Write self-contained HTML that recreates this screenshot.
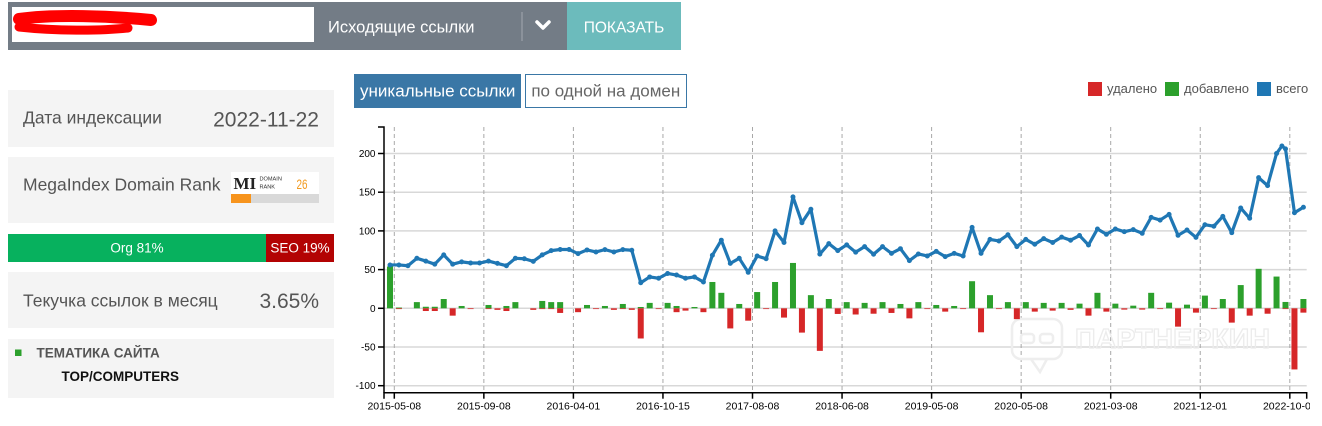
<!DOCTYPE html>
<html><head><meta charset="utf-8"><style>
html,body{margin:0;padding:0;background:#fff;}
body{width:1322px;height:426px;overflow:hidden;position:relative;}
svg{position:absolute;left:0;top:0;}
text{font-family:"Liberation Sans","DejaVu Sans",sans-serif;}
</style></head><body>
<svg width="1322" height="426" viewBox="0 0 1322 426" xmlns="http://www.w3.org/2000/svg">
<defs><clipPath id="cp"><rect x="0" y="0" width="1310" height="426"/></clipPath></defs>
<!-- top bar -->
<rect x="8" y="2" width="673" height="48" fill="#737c86"/>
<rect x="12" y="7" width="302" height="35" fill="#fff"/>
<path d="M19,19 C55,14 110,16 151,20" stroke="#ff0000" stroke-width="12" stroke-linecap="round" fill="none"/>
<path d="M19,27 C55,31 100,31 128,28" stroke="#ff0000" stroke-width="9" stroke-linecap="round" fill="none"/>
<text x="328" y="32.3" font-size="16.5" fill="#fff">Исходящие ссылки</text>
<line x1="522" y1="12" x2="522" y2="41" stroke="#a3a9b0" stroke-width="1"/>
<polyline points="537,22 543,28 549,22" fill="none" stroke="#fff" stroke-width="3.5" stroke-linecap="round" stroke-linejoin="round"/>
<rect x="567" y="2" width="114" height="48" fill="#6cbbbc"/>
<text x="624" y="32.3" font-size="15.5" fill="#fff" text-anchor="middle">ПОКАЗАТЬ</text>

<!-- left panel -->
<rect x="8" y="90" width="326" height="57" fill="#f4f4f4"/>
<text x="23" y="123.5" font-size="17.5" fill="#555">Дата индексации</text>
<text x="319" y="126.5" font-size="21" fill="#555" text-anchor="end">2022-11-22</text>

<rect x="8" y="157" width="326" height="66" fill="#f4f4f4"/>
<text x="23" y="190.5" font-size="17.5" fill="#555">MegaIndex Domain Rank</text>
<rect x="231" y="172" width="88" height="22" fill="#fff"/>
<text x="233.5" y="189" font-size="17" font-weight="bold" fill="#222" style="font-family:'Liberation Serif',serif">MI</text>
<text x="259.5" y="180.5" font-size="5.6" fill="#333">DOMAIN</text>
<text x="259.5" y="188.5" font-size="5.6" fill="#333">RANK</text>
<text x="296.5" y="189" font-size="14" fill="#f29a1f" textLength="11" lengthAdjust="spacingAndGlyphs">26</text>
<rect x="231" y="194" width="88" height="9" fill="#d9d9d9"/>
<rect x="231" y="194" width="20" height="9" fill="#f7941d"/>

<rect x="8" y="234" width="258" height="28" fill="#07b15e"/>
<rect x="266" y="234" width="68" height="28" fill="#b30303"/>
<text x="137" y="252.5" font-size="13.5" fill="#fff" text-anchor="middle">Org 81%</text>
<text x="300" y="252.5" font-size="13.5" fill="#fff" text-anchor="middle">SEO 19%</text>

<rect x="8" y="272" width="326" height="56" fill="#f4f4f4"/>
<text x="23" y="306.5" font-size="17.5" fill="#555">Текучка ссылок в месяц</text>
<text x="319" y="308" font-size="21" fill="#555" text-anchor="end">3.65%</text>

<rect x="8" y="339" width="326" height="59" fill="#f4f4f4"/>
<rect x="15" y="349.5" width="6.5" height="6.5" fill="#2ca02c"/>
<text x="36.5" y="357.5" font-size="13.5" font-weight="bold" fill="#555">ТЕМАТИКА САЙТА</text>
<text x="61.5" y="381" font-size="13.5" font-weight="bold" fill="#111">TOP/COMPUTERS</text>

<!-- buttons -->
<rect x="354" y="74" width="167" height="34" fill="#3a77a6"/>
<text x="437.7" y="96.7" font-size="17" fill="#fff" text-anchor="middle">уникальные ссылки</text>
<rect x="525.5" y="74.5" width="161" height="33" fill="#fff" stroke="#3a77a6" stroke-width="1"/>
<text x="605.8" y="96.7" font-size="17" fill="#666" text-anchor="middle">по одной на домен</text>

<!-- legend -->
<rect x="1088" y="82" width="14" height="14" fill="#d62728"/>
<text x="1107" y="93" font-size="13" fill="#555">удалено</text>
<rect x="1165" y="82" width="14" height="14" fill="#2ca02c"/>
<text x="1184" y="93" font-size="13" fill="#555">добавлено</text>
<rect x="1257" y="82" width="14" height="14" fill="#1f77b4"/>
<text x="1276" y="93" font-size="13" fill="#555">всего</text>

<!-- horizontal grid -->
<g stroke="#d8d8d8" stroke-width="1.5">
<line x1="384" x2="1306.7" y1="153.5" y2="153.5"/>
<line x1="384" x2="1306.7" y1="192.2" y2="192.2"/>
<line x1="384" x2="1306.7" y1="230.9" y2="230.9"/>
<line x1="384" x2="1306.7" y1="269.6" y2="269.6"/>
<line x1="384" x2="1306.7" y1="308.3" y2="308.3"/>
<line x1="384" x2="1306.7" y1="347" y2="347"/>
<line x1="384" x2="1306.7" y1="385.7" y2="385.7"/>
</g>
<!-- vertical dashed grid -->
<g stroke="#a8a8a8" stroke-width="1" stroke-dasharray="4,3">
<line x1="394.3" x2="394.3" y1="127" y2="392"/>
<line x1="483.85" x2="483.85" y1="127" y2="392"/>
<line x1="573.4" x2="573.4" y1="127" y2="392"/>
<line x1="662.95" x2="662.95" y1="127" y2="392"/>
<line x1="752.5" x2="752.5" y1="127" y2="392"/>
<line x1="842.05" x2="842.05" y1="127" y2="392"/>
<line x1="931.6" x2="931.6" y1="127" y2="392"/>
<line x1="1021.15" x2="1021.15" y1="127" y2="392"/>
<line x1="1110.7" x2="1110.7" y1="127" y2="392"/>
<line x1="1200.25" x2="1200.25" y1="127" y2="392"/>
<line x1="1289.8" x2="1289.8" y1="127" y2="392"/>
</g>

<!-- watermark -->
<g fill="none" stroke="#eeeeee" stroke-width="2.5">
<rect x="1012" y="319" width="50" height="40" rx="9"/>
<path d="M1031,359 L1040,372 L1047,359"/>
<rect x="1021" y="334" width="13" height="9" rx="3"/>
<rect x="1040" y="334" width="13" height="9" rx="3"/>
</g>
<text x="1075" y="348" font-size="28" font-weight="bold" fill="none" stroke="#ececec" stroke-width="1.3" textLength="195" lengthAdjust="spacingAndGlyphs">ПАРТНЕРКИН</text>

<!-- bars and line in data space -->
<g transform="translate(390,308.3) scale(8.955,-0.774)">
<g transform="translate(-0.335,0)" fill="#2ca02c">
<rect x="0" y="0" width="0.67" height="54"/>
<rect x="1" y="0" width="0.67" height="1"/>
<rect x="3" y="0" width="0.67" height="8"/>
<rect x="4" y="0" width="0.67" height="2"/>
<rect x="5" y="0" width="0.67" height="2"/>
<rect x="6" y="0" width="0.67" height="12"/>
<rect x="8" y="0" width="0.67" height="3"/>
<rect x="11" y="0" width="0.67" height="4.3"/>
<rect x="13" y="0" width="0.67" height="3"/>
<rect x="14" y="0" width="0.67" height="8"/>
<rect x="17" y="0" width="0.67" height="9.5"/>
<rect x="18" y="0" width="0.67" height="8"/>
<rect x="19" y="0" width="0.67" height="8"/>
<rect x="22" y="0" width="0.67" height="4.3"/>
<rect x="24" y="0" width="0.67" height="3"/>
<rect x="26" y="0" width="0.67" height="5.6"/>
<rect x="28" y="0" width="0.67" height="1.7"/>
<rect x="29" y="0" width="0.67" height="7"/>
<rect x="31" y="0" width="0.67" height="7"/>
<rect x="32" y="0" width="0.67" height="3"/>
<rect x="34" y="0" width="0.67" height="1.7"/>
<rect x="36" y="0" width="0.67" height="34"/>
<rect x="37" y="0" width="0.67" height="20"/>
<rect x="39" y="0" width="0.67" height="5.6"/>
<rect x="41" y="0" width="0.67" height="21"/>
<rect x="43" y="0" width="0.67" height="34"/>
<rect x="45" y="0" width="0.67" height="58.6"/>
<rect x="47" y="0" width="0.67" height="17"/>
<rect x="49" y="0" width="0.67" height="12"/>
<rect x="51" y="0" width="0.67" height="8"/>
<rect x="53" y="0" width="0.67" height="7"/>
<rect x="55" y="0" width="0.67" height="8"/>
<rect x="57" y="0" width="0.67" height="5.6"/>
<rect x="59" y="0" width="0.67" height="8"/>
<rect x="61" y="0" width="0.67" height="4.3"/>
<rect x="63" y="0" width="0.67" height="3"/>
<rect x="65" y="0" width="0.67" height="35"/>
<rect x="67" y="0" width="0.67" height="17"/>
<rect x="69" y="0" width="0.67" height="8"/>
<rect x="71" y="0" width="0.67" height="8"/>
<rect x="73" y="0" width="0.67" height="7"/>
<rect x="75" y="0" width="0.67" height="7"/>
<rect x="77" y="0" width="0.67" height="6"/>
<rect x="79" y="0" width="0.67" height="20"/>
<rect x="81" y="0" width="0.67" height="6"/>
<rect x="83" y="0" width="0.67" height="3.4"/>
<rect x="85" y="0" width="0.67" height="20"/>
<rect x="87" y="0" width="0.67" height="7.3"/>
<rect x="89" y="0" width="0.67" height="4.7"/>
<rect x="91" y="0" width="0.67" height="16.4"/>
<rect x="93" y="0" width="0.67" height="12"/>
<rect x="95" y="0" width="0.67" height="30"/>
<rect x="97" y="0" width="0.67" height="51"/>
<rect x="99" y="0" width="0.67" height="41"/>
<rect x="100" y="0" width="0.67" height="8.2"/>
<rect x="102" y="0" width="0.67" height="12"/>
</g>
<g transform="translate(-0.335,0)" fill="#d62728">
<rect x="1" y="-1" width="0.67" height="1"/>
<rect x="4" y="-3.5" width="0.67" height="3.5"/>
<rect x="5" y="-3.5" width="0.67" height="3.5"/>
<rect x="7" y="-9.5" width="0.67" height="9.5"/>
<rect x="9" y="-1" width="0.67" height="1"/>
<rect x="11" y="-1" width="0.67" height="1"/>
<rect x="12" y="-2" width="0.67" height="2"/>
<rect x="13" y="-3.5" width="0.67" height="3.5"/>
<rect x="16" y="-2" width="0.67" height="2"/>
<rect x="17" y="-1" width="0.67" height="1"/>
<rect x="18" y="-1" width="0.67" height="1"/>
<rect x="19" y="-6" width="0.67" height="6"/>
<rect x="21" y="-5" width="0.67" height="5"/>
<rect x="23" y="-1" width="0.67" height="1"/>
<rect x="25" y="-2" width="0.67" height="2"/>
<rect x="26" y="-1" width="0.67" height="1"/>
<rect x="27" y="-2" width="0.67" height="2"/>
<rect x="28" y="-39" width="0.67" height="39"/>
<rect x="30" y="-1" width="0.67" height="1"/>
<rect x="32" y="-5" width="0.67" height="5"/>
<rect x="33" y="-3" width="0.67" height="3"/>
<rect x="35" y="-5" width="0.67" height="5"/>
<rect x="38" y="-26" width="0.67" height="26"/>
<rect x="40" y="-16" width="0.67" height="16"/>
<rect x="42" y="-1" width="0.67" height="1"/>
<rect x="44" y="-12" width="0.67" height="12"/>
<rect x="46" y="-31.4" width="0.67" height="31.4"/>
<rect x="48" y="-55" width="0.67" height="55"/>
<rect x="50" y="-7.3" width="0.67" height="7.3"/>
<rect x="52" y="-8" width="0.67" height="8"/>
<rect x="54" y="-7" width="0.67" height="7"/>
<rect x="56" y="-6" width="0.67" height="6"/>
<rect x="58" y="-13" width="0.67" height="13"/>
<rect x="60" y="-1" width="0.67" height="1"/>
<rect x="62" y="-4.3" width="0.67" height="4.3"/>
<rect x="64" y="-1" width="0.67" height="1"/>
<rect x="66" y="-31" width="0.67" height="31"/>
<rect x="68" y="-1" width="0.67" height="1"/>
<rect x="70" y="-14" width="0.67" height="14"/>
<rect x="72" y="-4.3" width="0.67" height="4.3"/>
<rect x="74" y="-3" width="0.67" height="3"/>
<rect x="76" y="-2" width="0.67" height="2"/>
<rect x="78" y="-9.5" width="0.67" height="9.5"/>
<rect x="80" y="-4.3" width="0.67" height="4.3"/>
<rect x="82" y="-1.7" width="0.67" height="1.7"/>
<rect x="84" y="-1.7" width="0.67" height="1.7"/>
<rect x="86" y="-1" width="0.67" height="1"/>
<rect x="88" y="-23.7" width="0.67" height="23.7"/>
<rect x="90" y="-5.6" width="0.67" height="5.6"/>
<rect x="92" y="-1" width="0.67" height="1"/>
<rect x="94" y="-18.5" width="0.67" height="18.5"/>
<rect x="96" y="-9.5" width="0.67" height="9.5"/>
<rect x="98" y="-7" width="0.67" height="7"/>
<rect x="100" y="-1" width="0.67" height="1"/>
<rect x="101" y="-79" width="0.67" height="79"/>
<rect x="102" y="-5.6" width="0.67" height="5.6"/>
</g>
<polyline vector-effect="non-scaling-stroke" fill="none" stroke="#1f77b4" stroke-width="3.2" stroke-linejoin="round" stroke-linecap="round" points="0,56 1,56 2,55 3,64.6 4,61 5,57 6,69 7,57 8,60 9,58.5 10,58.5 11,61 12,58 13,55 14,64.6 15,64 16,60.7 17,69 18,74.5 19,76 20,76 21,70.6 22,75.4 23,72.8 24,75.8 25,72.8 26,75.8 27,75 28,33 29,40.5 30,38.8 31,45 32,43 33,38.8 34,40.5 35,34 36,68.5 37,88 38,58 39,64.6 40,46.5 41,67.6 42,64 43,100 44,85 45,144 46,110.6 47,128 48,70 49,83.5 50,74.5 51,82 52,72.5 53,79.7 54,69.8 55,79.7 56,71 57,77 58,61.6 59,70.2 60,67.6 61,73.6 62,66.8 63,71 64,67.6 65,104.6 66,71 67,89 68,87 69,95 70,79.7 71,89 72,82.7 73,90 74,85 75,92 76,88 77,94 78,81.8 79,102.5 80,95.6 81,102.5 82,99 83,101.6 84,96.9 85,117.5 86,114 87,121.4 88,94.3 89,101.2 90,91.7 91,108 92,106 93,118.8 94,97.7 95,129.6 96,116.3 97,168.8 98,158.5 99,200 99.6,209.7 100,206 101,123.5 102,130.5"/>
<path vector-effect="non-scaling-stroke" fill="none" stroke="#1f77b4" stroke-width="5" stroke-linecap="round" d="M0,56h0M1,56h0M2,55h0M3,64.6h0M4,61h0M5,57h0M6,69h0M7,57h0M8,60h0M9,58.5h0M10,58.5h0M11,61h0M12,58h0M13,55h0M14,64.6h0M15,64h0M16,60.7h0M17,69h0M18,74.5h0M19,76h0M20,76h0M21,70.6h0M22,75.4h0M23,72.8h0M24,75.8h0M25,72.8h0M26,75.8h0M27,75h0M28,33h0M29,40.5h0M30,38.8h0M31,45h0M32,43h0M33,38.8h0M34,40.5h0M35,34h0M36,68.5h0M37,88h0M38,58h0M39,64.6h0M40,46.5h0M41,67.6h0M42,64h0M43,100h0M44,85h0M45,144h0M46,110.6h0M47,128h0M48,70h0M49,83.5h0M50,74.5h0M51,82h0M52,72.5h0M53,79.7h0M54,69.8h0M55,79.7h0M56,71h0M57,77h0M58,61.6h0M59,70.2h0M60,67.6h0M61,73.6h0M62,66.8h0M63,71h0M64,67.6h0M65,104.6h0M66,71h0M67,89h0M68,87h0M69,95h0M70,79.7h0M71,89h0M72,82.7h0M73,90h0M74,85h0M75,92h0M76,88h0M77,94h0M78,81.8h0M79,102.5h0M80,95.6h0M81,102.5h0M82,99h0M83,101.6h0M84,96.9h0M85,117.5h0M86,114h0M87,121.4h0M88,94.3h0M89,101.2h0M90,91.7h0M91,108h0M92,106h0M93,118.8h0M94,97.7h0M95,129.6h0M96,116.3h0M97,168.8h0M98,158.5h0M99,200h0M99.6,209.7h0M100,206h0M101,123.5h0M102,130.5h0"/>
</g>

<!-- axes -->
<g stroke="#000" stroke-width="1.5" fill="none">
<path d="M378,127 H384 V392.7"/>
<path d="M384,398.7 V392.7 H1306.7 V398.7"/>
<line x1="378" x2="384" y1="153.5" y2="153.5"/>
<line x1="378" x2="384" y1="192.2" y2="192.2"/>
<line x1="378" x2="384" y1="230.9" y2="230.9"/>
<line x1="378" x2="384" y1="269.6" y2="269.6"/>
<line x1="378" x2="384" y1="308.3" y2="308.3"/>
<line x1="378" x2="384" y1="347" y2="347"/>
<line x1="378" x2="384" y1="385.7" y2="385.7"/>
<line x1="394.3" x2="394.3" y1="392.7" y2="398.7"/>
<line x1="483.85" x2="483.85" y1="392.7" y2="398.7"/>
<line x1="573.4" x2="573.4" y1="392.7" y2="398.7"/>
<line x1="662.95" x2="662.95" y1="392.7" y2="398.7"/>
<line x1="752.5" x2="752.5" y1="392.7" y2="398.7"/>
<line x1="842.05" x2="842.05" y1="392.7" y2="398.7"/>
<line x1="931.6" x2="931.6" y1="392.7" y2="398.7"/>
<line x1="1021.15" x2="1021.15" y1="392.7" y2="398.7"/>
<line x1="1110.7" x2="1110.7" y1="392.7" y2="398.7"/>
<line x1="1200.25" x2="1200.25" y1="392.7" y2="398.7"/>
<line x1="1289.8" x2="1289.8" y1="392.7" y2="398.7"/>
</g>
<g font-size="10" fill="#000" text-anchor="end">
<text x="375.5" y="157">200</text>
<text x="375.5" y="195.7">150</text>
<text x="375.5" y="234.4">100</text>
<text x="375.5" y="273.1">50</text>
<text x="375.5" y="311.8">0</text>
<text x="375.5" y="350.5">-50</text>
<text x="375.5" y="389.2">-100</text>
</g>
<g font-size="10.5" fill="#000" text-anchor="middle" clip-path="url(#cp)">
<text x="394.3" y="409.5">2015-05-08</text>
<text x="483.85" y="409.5">2015-09-08</text>
<text x="573.4" y="409.5">2016-04-01</text>
<text x="662.95" y="409.5">2016-10-15</text>
<text x="752.5" y="409.5">2017-08-08</text>
<text x="842.05" y="409.5">2018-06-08</text>
<text x="931.6" y="409.5">2019-05-08</text>
<text x="1021.15" y="409.5">2020-05-08</text>
<text x="1110.7" y="409.5">2021-03-08</text>
<text x="1200.25" y="409.5">2021-12-01</text>
<text x="1289.8" y="409.5">2022-10-01</text>
</g>
</svg>
</body></html>
